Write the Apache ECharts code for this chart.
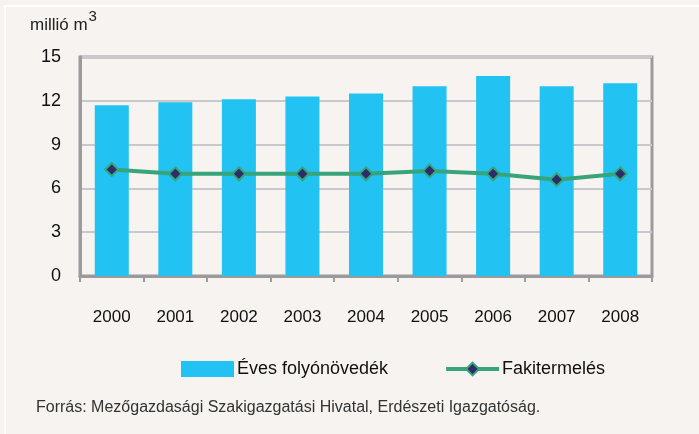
<!DOCTYPE html>
<html>
<head>
<meta charset="utf-8">
<script src="https://cdn.jsdelivr.net/npm/echarts@6/dist/echarts.min.js"></script>
<style>
  html, body { margin: 0; padding: 0; background: #f6f3f0; }
  #chart { width: 699px; height: 434px; }
</style>
</head>
<body>
<div id="chart"></div>
<script>
// data
const years = ['2000', '2001', '2002', '2003', '2004', '2005', '2006', '2007', '2008']
const novedek = [11.7, 11.9, 12.1, 12.3, 12.5, 13.0, 13.7, 13.0, 13.2]
const fakitermeles = [7.3, 7.0, 7.0, 7.0, 7.0, 7.2, 7.0, 6.6, 7.0]

const font = '"Liberation Sans", Arial, sans-serif'
const chart = echarts.init(document.getElementById('chart'))

chart.setOption({
  backgroundColor: '#f6f3f0',
  textStyle: { fontFamily: font },
  grid: {
    left: 80, right: 47, top: 57, bottom: 158,
    show: true, borderColor: '#9b9b9e', borderWidth: 3, backgroundColor: 'transparent'
  },
  graphic: [
    {
      type: 'rect',
      shape: { x: 5, y: 6, width: 800, height: 600 },
      style: { fill: 'none', stroke: '#ffffff', lineWidth: 2 },
      silent: true
    },
    {
      type: 'text',
      left: 30, top: 9,
      style: {
        text: '{a|millió m}{b|3}',
        rich: {
          a: { fontSize: 17, fill: '#222', fontFamily: font, padding: [8, 1, 0, 0] },
          b: { fontSize: 15, fill: '#222', fontFamily: font, verticalAlign: 'top' }
        }
      }
    },
    {
      type: 'text',
      left: 36, top: 400,
      style: {
        text: 'Forrás: Mezőgazdasági Szakigazgatási Hivatal, Erdészeti Igazgatóság.',
        fontSize: 16, fill: '#333', fontFamily: font
      }
    }
  ],
  legend: {
    top: 355,
    left: 176,
    itemWidth: 53,
    itemHeight: 16,
    itemGap: 56,
    textStyle: { fontSize: 18, color: '#111', fontFamily: font, padding: [0, 0, 0, -2] },
    lineStyle: { width: 4 },
    data: [
      { name: 'Éves folyónövedék', icon: 'rect' },
      { name: 'Fakitermelés' }
    ]
  },
  xAxis: {
    type: 'category',
    data: years,
    axisLine: { lineStyle: { color: '#9b9b9e', width: 3 } },
    axisTick: { show: true, length: 6, lineStyle: { color: '#9b9b9e', width: 2 } },
    axisLabel: { fontSize: 17, color: '#111', margin: 33 }
  },
  yAxis: {
    type: 'value',
    min: 0, max: 15, interval: 3,
    axisLine: { show: true, lineStyle: { color: '#9b9b9e', width: 3 } },
    axisTick: { show: false },
    axisLabel: { fontSize: 18, color: '#111', margin: 19 },
    splitLine: { lineStyle: { color: '#c9c8ca', width: 2 } }
  },
  series: [
    {
      name: 'Éves folyónövedék',
      type: 'bar',
      data: novedek,
      barWidth: 34,
      itemStyle: { color: '#22c3f2' }
    },
    {
      name: 'Fakitermelés',
      type: 'line',
      data: fakitermeles,
      symbol: 'diamond',
      symbolSize: 13,
      lineStyle: { color: '#38a47a', width: 4 },
      itemStyle: { color: '#2e2d6b', borderColor: '#38a47a', borderWidth: 2 }
    }
  ]
})
</script>
</body>
</html>
